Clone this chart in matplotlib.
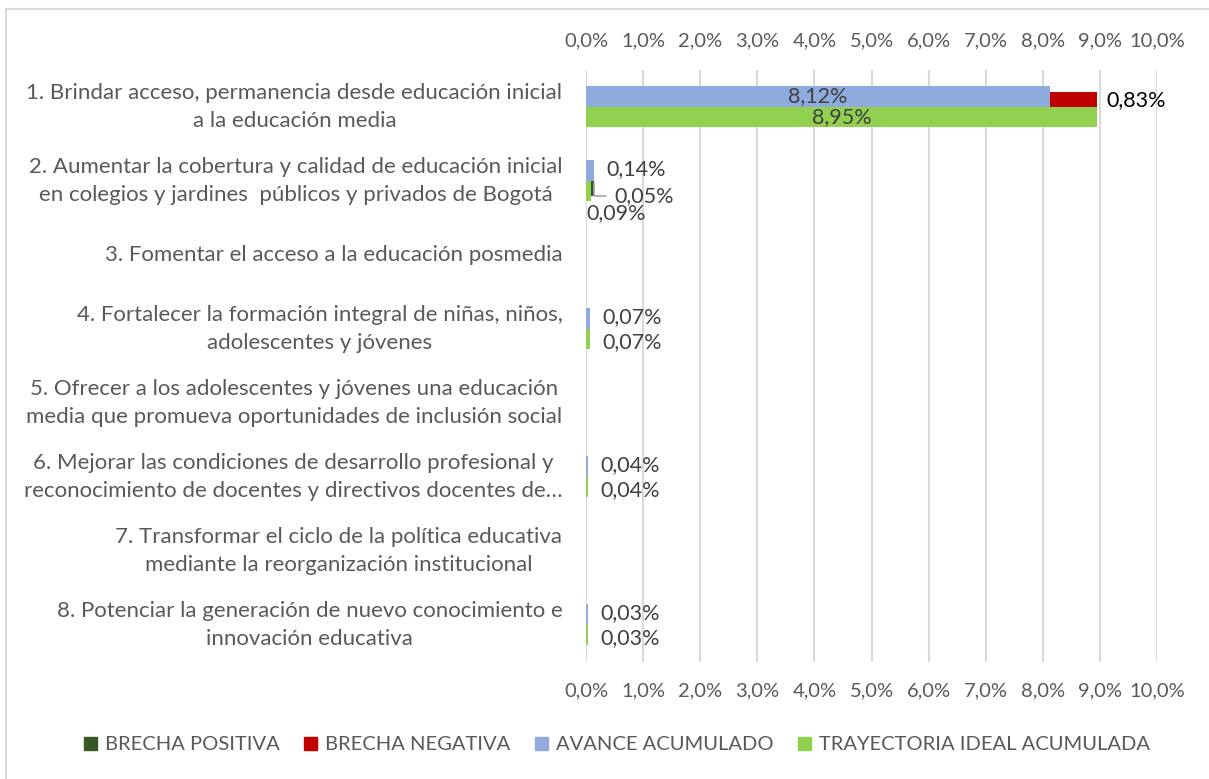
import matplotlib.pyplot as plt
from matplotlib.patches import Rectangle
from matplotlib.ticker import FuncFormatter

plt.rcParams['font.family'] = ['Lato', 'DejaVu Sans']

# datos
categorias = [
    "1. Brindar acceso, permanencia desde educación inicial\na la educación media",
    "2. Aumentar la cobertura y calidad de educación inicial\nen colegios y jardines  públicos y privados de Bogotá",
    "3. Fomentar el acceso a la educación posmedia",
    "4. Fortalecer la formación integral de niñas, niños,\nadolescentes y jóvenes",
    "5. Ofrecer a los adolescentes y jóvenes una educación\nmedia que promueva oportunidades de inclusión social",
    "6. Mejorar las condiciones de desarrollo profesional y\nreconocimiento de docentes y directivos docentes de…",
    "7. Transformar el ciclo de la política educativa\nmediante la reorganización institucional",
    "8. Potenciar la generación de nuevo conocimiento e\ninnovación educativa",
]
avance = [8.12, 0.14, 0, 0.07, 0, 0.04, 0, 0.03]
ideal = [8.95, 0.09, 0, 0.07, 0, 0.04, 0, 0.03]
brecha_pos = [0, 0.05, 0, 0, 0, 0, 0, 0]
brecha_neg = [0.83, 0, 0, 0, 0, 0, 0, 0]
ticks = [0, 1, 2, 3, 4, 5, 6, 7, 8, 9, 10]

c_pos = '#375623'
c_neg = '#C00000'
c_av = '#8FAADC'
c_id = '#92D050'
gris = '#595959'
fs_lab = 15.5

def fmt(v):
    return f"{v:.2f}%".replace('.', ',')

fig = plt.figure(figsize=(12.09, 7.79), dpi=100)
ax = fig.add_axes([586/1209, 1-662/779, (1157-586)/1209, (662-70)/779])

y = list(range(len(categorias)))
h_av, h_id, h_gap = 0.284, 0.27, 0.2
ax.barh([i - h_av/2 for i in y], avance, height=h_av, color=c_av)
ax.barh([i - h_gap/2 for i in y], brecha_neg, left=avance, height=h_gap, color=c_neg)
ax.barh([i + h_id/2 for i in y], ideal, height=h_id, color=c_id)
ax.barh([i + h_gap/2 for i in y], brecha_pos, left=ideal, height=h_gap, color=c_pos)

# etiquetas de datos
for i in y:
    if avance[i] > 0:
        if avance[i] > 1:
            ax.text(avance[i]/2, i - h_av/2, fmt(avance[i]), ha='center', va='center',
                    fontsize=fs_lab, color='#404040')
        else:
            ax.annotate(fmt(avance[i]), (avance[i], i - h_av/2), xytext=(9, 1),
                        textcoords='offset points', ha='left', va='center',
                        fontsize=fs_lab, color='#404040')
    if ideal[i] > 0:
        if ideal[i] > 1:
            ax.text(ideal[i]/2, i + h_id/2, fmt(ideal[i]), ha='center', va='center',
                    fontsize=fs_lab, color='#404040')
        elif brecha_pos[i] > 0:
            ax.annotate(fmt(ideal[i]), (0, i + 0.43), xytext=(0, 0),
                        textcoords='offset points', ha='left', va='center',
                        fontsize=fs_lab, color='#404040')
        else:
            ax.annotate(fmt(ideal[i]), (ideal[i], i + h_id/2), xytext=(9, -2),
                        textcoords='offset points', ha='left', va='center',
                        fontsize=fs_lab, color='#404040')
    if brecha_neg[i] > 0:
        ax.annotate(fmt(brecha_neg[i]), (avance[i] + brecha_neg[i], i - h_gap/2),
                    xytext=(7, 0), textcoords='offset points', ha='left', va='center',
                    fontsize=fs_lab, color='black')
    if brecha_pos[i] > 0:
        ax.annotate(fmt(brecha_pos[i]), (ideal[i] + brecha_pos[i], i + 0.03),
                    xytext=(15, -9), textcoords='offset points', ha='left', va='center',
                    fontsize=fs_lab, color='#404040',
                    arrowprops=dict(arrowstyle='-', color='#A6A6A6', lw=1.2,
                                    connectionstyle='angle,angleA=0,angleB=90,rad=0',
                                    shrinkA=4, shrinkB=0))

ax.set_xlim(0, 10)
ax.set_ylim(len(categorias) - 0.5, -0.5)
ax.set_xticks(ticks)
ax.xaxis.set_major_formatter(FuncFormatter(lambda v, p: f"{v:.1f}%".replace('.', ',')))
ax.set_yticks(y)
ax.set_yticklabels(categorias, ha='right', va='center', multialignment='center',
                   linespacing=1.55)
ax.tick_params(axis='x', length=0, labeltop=True, labelbottom=True, pad=15,
               labelsize=14.5, labelcolor=gris)
ax.tick_params(axis='y', length=0, pad=17, labelsize=16, labelcolor=gris)
for s in ax.spines.values():
    s.set_visible(False)
ax.grid(axis='x', color='#D9D9D9', lw=1.5)
ax.set_axisbelow(True)

# leyenda
handles = [Rectangle((0, 0), 1, 1, color=c) for c in (c_pos, c_neg, c_av, c_id)]
nombres = ['BRECHA POSITIVA', 'BRECHA NEGATIVA', 'AVANCE ACUMULADO', 'TRAYECTORIA IDEAL ACUMULADA']
fig.legend(handles, nombres, loc='center', bbox_to_anchor=(617/1209, 1-745/779), ncol=4,
           frameon=False, fontsize=14.5, labelcolor=gris, handlelength=0.65,
           handleheight=0.65, handletextpad=0.4, columnspacing=1.2)

# borde
fig.patches.append(Rectangle((6/1209, -0.05), 1.1, 1.05 - 9/779, transform=fig.transFigure,
                             fill=False, edgecolor='#D9D9D9', lw=1.5))

fig.savefig('out.png', dpi=100)
